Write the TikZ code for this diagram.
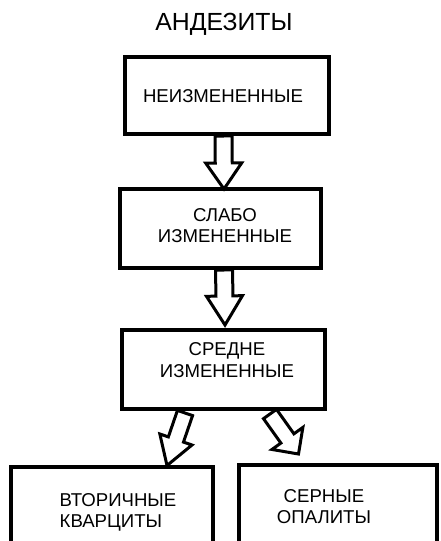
\documentclass[tikz,border=0pt]{standalone}
\usepackage{fontspec}
\setmainfont{Liberation Sans}
\usetikzlibrary{calc}
\tikzset{
  boxnode/.style={draw, line width=4pt, rectangle, inner sep=0pt},
  txt/.style={align=center, inner sep=0pt, font=\fontsize{18.6}{21.2}\selectfont},
  titletxt/.style={inner sep=0pt, font=\fontsize{24.8}{28}\selectfont},
  barrowstyle/.style={draw, line width=3pt, line join=miter, fill=white}
}
\newcommand{\blockarrow}[5]{%
  \draw[barrowstyle] ($(#1)!#4!90:(#2)$) -- ($(#1)!#3!(#2)!#4!90:(#2)$)
    -- ($(#1)!#3!(#2)!#5!90:(#2)$) -- (#2)
    -- ($(#1)!#3!(#2)!#5!-90:(#2)$) -- ($(#1)!#3!(#2)!#4!-90:(#2)$)
    -- ($(#1)!#4!-90:(#2)$) -- cycle;}
\begin{document}
\begin{tikzpicture}[x=1pt,y=-1pt]
\useasboundingbox (0,0) rectangle (441,541);
\clip (0,0) rectangle (441,541);
\fill[white] (0,0) rectangle (441,541);

\node[titletxt] (title) at (224,24) {АНДЕЗИТЫ};

\node[boxnode, minimum width=204pt, minimum height=77pt] (b1) at (227,95.5) {};
\node[boxnode, minimum width=201pt, minimum height=79pt] (b2) at (220.5,228.5) {};
\node[boxnode, minimum width=203pt, minimum height=79pt] (b3) at (223.5,369.5) {};
\node[boxnode, minimum width=202.5pt, minimum height=89pt] (b4) at (111.75,511.5) {};
\node[boxnode, minimum width=198pt, minimum height=91pt] (b5) at (338,510.5) {};

\node[txt] (t1) at ($(b1.center)+(-4,1)$) {НЕИЗМЕНЕННЫЕ};
\node[txt] (t2) at ($(b2.center)+(4.5,-3)$) {СЛАБО\\ИЗМЕНЕННЫЕ};
\node[txt] (t3) at ($(b3.center)+(3.5,-9.5)$) {СРЕДНЕ\\ИЗМЕНЕННЫЕ};
\node[txt, align=left, anchor=west] (t4) at ($(b4.west)+(51,0.5)$) {ВТОРИЧНЫЕ\\КВАРЦИТЫ};
\node[txt] (t5) at ($(b5.center)+(-14,-4)$) {СЕРНЫЕ\\ОПАЛИТЫ};

\coordinate (a1s) at ($(b1.south)+(-3.5,0)$);
\coordinate (a1e) at ($(b2.north)+(3.5,2)$);
\coordinate (a2s) at ($(b2.south)+(3.5,0)$);
\coordinate (a2e) at ($(b3.north)+(1.5,-3)$);
\coordinate (a3s) at ($(b3.south)+(-38.5,2)$);
\coordinate (a3e) at ($(b4.north)+(55.25,0.5)$);
\coordinate (a4s) at ($(b3.south)+(46.5,3)$);
\coordinate (a4e) at ($(b5.north)+(-39.5,-9)$);

\blockarrow{a1s}{a1e}{27pt}{8.5pt}{18pt}
\blockarrow{a2s}{a2e}{26pt}{8.5pt}{18pt}
\blockarrow{a3s}{a3e}{28pt}{8pt}{17pt}
\blockarrow{a4s}{a4e}{30pt}{8pt}{19pt}
\end{tikzpicture}
\end{document}
